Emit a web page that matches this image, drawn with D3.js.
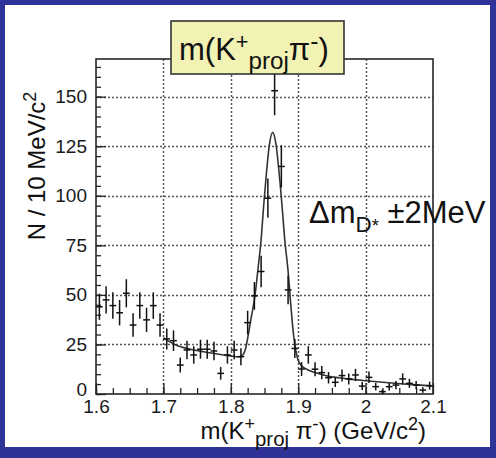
<!DOCTYPE html>
<html>
<head>
<meta charset="utf-8">
<script src="https://cdn.jsdelivr.net/npm/d3@7"></script>
<style>
  body { margin: 0; background: #2f3296; }
  svg { display: block; font-family: "Liberation Sans", Arial, sans-serif; }
</style>
</head>
<body>
<svg id="chart" width="496" height="458"></svg>
<script>
// bin centres (GeV/c^2), 10 MeV bins
const binCentres = d3.range(50).map(i => +(1.605 + i * 0.01).toFixed(3));

// candidates per bin
const counts = [44, 47.5, 44.6, 41, 50.8, 34.8, 44.6, 37.4, 44.6, 34.8,
                27.8, 26.9, 14.6, 22.2, 19.7, 22.6, 22.6, 21.7, 10.4, 19.7,
                22.2, 18.8, 36, 49.5, 61.8, 98.8, 153, 114.8, 52.5, 23,
                12.6, 19.7, 12.5, 10.8, 8.2, 5.9, 9.3, 7.6, 9.6, 4,
                8.4, 3.7, 1.2, 3.7, 4.5, 7.6, 5.4, 4.5, 2, 4.2];

// vertical error bar half lengths
const errors = [6.6, 6.9, 6.7, 6.4, 7.1, 5.9, 6.7, 6.1, 6.7, 5.9,
                5.3, 5.2, 3.8, 4.7, 4.4, 4.8, 4.8, 4.7, 3.2, 4.4,
                4.7, 4.3, 6, 7, 7.9, 9.9, 12.4, 10.7, 7.2, 4.8,
                3.5, 4.4, 3.5, 3.3, 2.9, 2.4, 3, 2.8, 3.1, 2,
                2.9, 1.9, 1.1, 1.9, 2.1, 2.8, 2.3, 2.1, 1.4, 2];

// fit curve
const fitMass = [1.700, 1.720, 1.740, 1.760, 1.780, 1.800, 1.812, 1.818, 1.822, 1.826,
                 1.830, 1.836, 1.840, 1.845, 1.849, 1.853, 1.857, 1.862, 1.867, 1.871,
                 1.876, 1.880, 1.885, 1.889, 1.893, 1.897, 1.900, 1.905, 1.912, 1.925,
                 1.940, 1.960, 1.980, 2.000, 2.030, 2.060, 2.100];
const fitValue = [28.3, 24.5, 22.6, 21.3, 20.2, 19.2, 18.8, 19.8, 23, 30,
                  38, 50, 62, 78, 96, 112, 125, 132, 126, 114,
                  95, 78, 62, 45, 30, 21, 17, 14.3, 12.6, 10.8,
                  9.3, 8.2, 7.4, 6.7, 5.8, 5.0, 4.0];

const xTicks = [1.6, 1.7, 1.8, 1.9, 2.0, 2.1];
const yTicks = [0, 25, 50, 75, 100, 125, 150];

const svg = d3.select("#chart");
const ink = "#262626";

// blue slide border and white panel
svg.append("rect").attr("width", 496).attr("height", 458).attr("fill", "#2f3296");
svg.append("rect").attr("x", 5).attr("y", 5).attr("width", 485).attr("height", 442).attr("fill", "#fff");

const x = d3.scaleLinear().domain([1.6, 2.1]).range([96, 433]);
const y = d3.scaleLinear().domain([0, 169]).range([394, 59]);

// dotted grid
const grid = svg.append("g");
xTicks.slice(1, -1).forEach(d => {
  grid.append("line").attr("x1", Math.round(x(d)) + 0.5).attr("x2", Math.round(x(d)) + 0.5)
      .attr("y1", y(169)).attr("y2", y(0))
      .attr("stroke", "#555").attr("stroke-width", 1.5).attr("stroke-dasharray", "2 2");
});
yTicks.slice(1).forEach(d => {
  grid.append("line").attr("y1", Math.round(y(d)) + 0.5).attr("y2", Math.round(y(d)) + 0.5)
      .attr("x1", x(1.6)).attr("x2", x(2.1))
      .attr("stroke", "#555").attr("stroke-width", 1.5).attr("stroke-dasharray", "2 2");
});

// axes, ROOT style ticks pointing inwards
const fmt = d3.format("");
svg.append("g").attr("transform", "translate(0,394)")
    .call(d3.axisBottom(x).tickValues(xTicks).tickFormat(fmt).tickSizeInner(-11).tickSizeOuter(0).tickPadding(6));
svg.append("g").attr("transform", "translate(0,394)")
    .call(d3.axisBottom(x).tickValues(d3.range(1.6, 2.1, 0.025)).tickFormat("").tickSizeInner(-6).tickSizeOuter(0));
const yAxis = svg.append("g").attr("transform", "translate(96,0)")
    .call(d3.axisLeft(y).tickValues(yTicks).tickSizeInner(-10).tickSizeOuter(0).tickPadding(9));
svg.append("g").attr("transform", "translate(96,0)")
    .call(d3.axisLeft(y).tickValues(d3.range(0, 169, 5)).tickFormat("").tickSizeInner(-5).tickSizeOuter(0));
svg.selectAll(".domain").remove();
svg.selectAll(".tick line").attr("stroke", ink).attr("stroke-width", 1.3);
svg.selectAll(".tick text").attr("fill", "#1a1a1a").style("font-size", "19px")
    .style("font-family", "'Liberation Sans', Arial, sans-serif");
// the zero label sits a touch higher, clear of "1.6"
yAxis.selectAll(".tick text").filter(d => d === 0).attr("dy", "0.1em");

// frame
svg.append("rect").attr("x", x(1.6)).attr("y", y(169))
    .attr("width", x(2.1) - x(1.6)).attr("height", y(0) - y(169))
    .attr("fill", "none").attr("stroke", ink).attr("stroke-width", 1.6);

// fit curve
const fit = fitMass.map((m, i) => [m, fitValue[i]]);
svg.append("path").datum(fit)
    .attr("fill", "none").attr("stroke", "#333").attr("stroke-width", 1.6)
    .attr("d", d3.line().curve(d3.curveMonotoneX).x(d => x(d[0])).y(d => y(d[1])));

// data points with error bars
const pts = svg.append("g").attr("stroke", "#111").attr("stroke-width", 1.5);
binCentres.forEach((m, i) => {
  pts.append("line")
      .attr("x1", x(m)).attr("x2", x(m))
      .attr("y1", y(counts[i] - errors[i])).attr("y2", y(counts[i] + errors[i]));
  pts.append("line")
      .attr("x1", x(m - 0.005)).attr("x2", x(m + 0.005))
      .attr("y1", y(counts[i])).attr("y2", y(counts[i]));
});

// helper for text with sub / superscripts
function rich(sel, parts, size) {
  let shift = 0;
  parts.forEach(p => {
    const target = p.s === "sup" ? -0.36 * size : p.s === "sub" ? 0.3 * size : 0;
    sel.append("tspan")
        .attr("dy", target - shift)
        .style("font-size", (p.s ? p.k || 0.7 : 1) * size + "px")
        .text(p.t);
    shift = target;
  });
}

// title box
svg.append("rect").attr("x", 171).attr("y", 21).attr("width", 173).attr("height", 53)
    .attr("fill", "#f2f2b4").attr("stroke", "#333").attr("stroke-width", 1.6);
rich(svg.append("text").attr("x", 179).attr("y", 60).attr("fill", "#111"),
     [{t: "m(K"}, {t: "+", s: "sup"}, {t: "proj", s: "sub", k: 0.78}, {t: "π"}, {t: "-", s: "sup", k: 0.8}, {t: ")"}], 31);

// annotation
rich(svg.append("text").attr("x", 309).attr("y", 223).attr("fill", "#111"),
     [{t: "Δm"}, {t: "D", s: "sub", k: 0.72}, {t: "*", s: "sub", k: 0.6}, {t: " ±2MeV"}], 31);

// axis titles
rich(svg.append("text").attr("x", 426).attr("y", 439).attr("text-anchor", "end").attr("fill", "#111"),
     [{t: "m(K"}, {t: "+", s: "sup", k: 0.75}, {t: "proj", s: "sub", k: 0.85}, {t: " π"}, {t: "-", s: "sup", k: 0.8},
      {t: ") (GeV/c"}, {t: "2", s: "sup", k: 0.75}, {t: ")"}], 24);
rich(svg.append("text").attr("transform", "translate(45,166) rotate(-90)")
        .attr("text-anchor", "middle").attr("fill", "#111"),
     [{t: "N / 10 MeV/c"}, {t: "2", s: "sup", k: 0.75}], 24);
</script>
</body>
</html>
